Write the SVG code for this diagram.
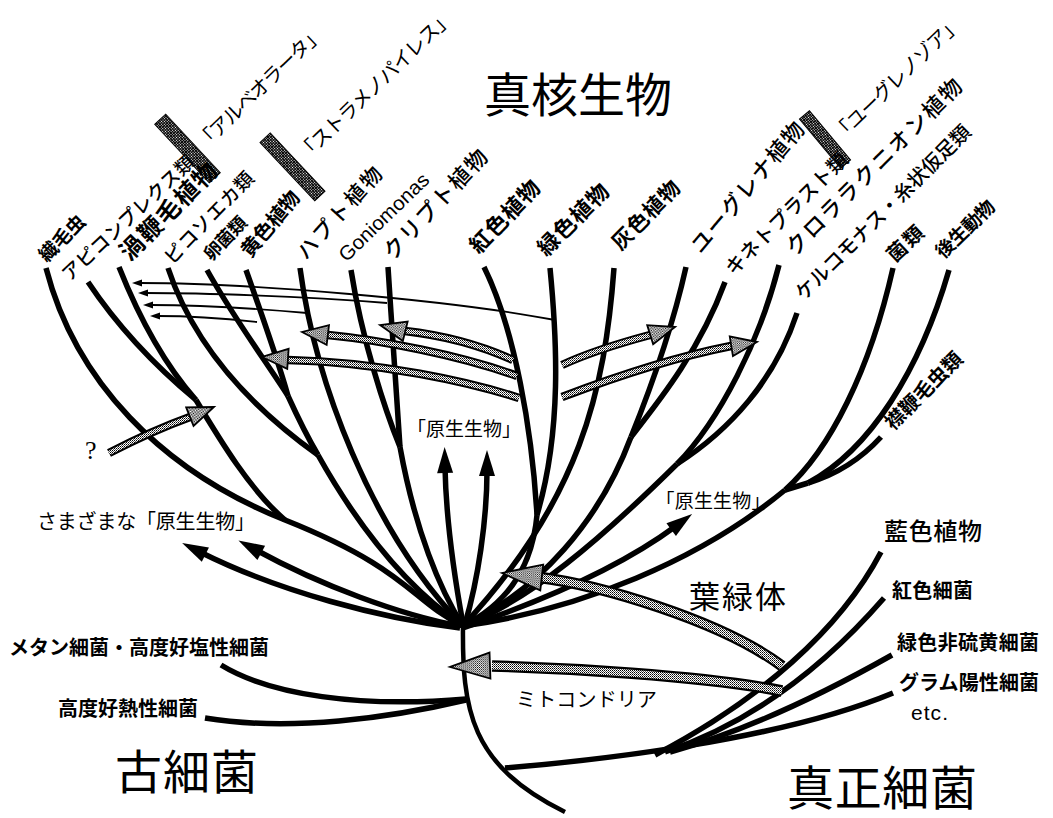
<svg xmlns="http://www.w3.org/2000/svg" width="1053" height="818" viewBox="0 0 1053 818">
<defs>
<pattern id="hatch" width="2" height="2" patternUnits="userSpaceOnUse"><rect width="2" height="2" fill="#fff"/><rect width="1" height="1" fill="#000"/><rect x="1" y="1" width="1" height="1" fill="#555"/></pattern>
<pattern id="dk" width="2" height="2" patternUnits="userSpaceOnUse"><rect width="2" height="2" fill="#000"/><rect width="1" height="1" fill="#fff"/></pattern>
<marker id="ah" markerUnits="userSpaceOnUse" markerWidth="30" markerHeight="20" viewBox="0 -10 30 20" refX="6" refY="0" orient="auto" overflow="visible"><path d="M0,-8 L26,0 L0,8 Z" fill="#000"/></marker>
<style>
.br{fill:none;stroke:#000;stroke-width:5.5}
.st{fill:none;stroke:#000;stroke-width:4.5}
.thin{fill:none;stroke:#000;stroke-width:1.8}
.hb{fill:none;stroke:#000;stroke-width:8.5}
.hf{fill:none;stroke:url(#hatch);stroke-width:4.5}
.Hb{fill:none;stroke:#000;stroke-width:11.5}
.Hf{fill:none;stroke:url(#hatch);stroke-width:7}
.hh{fill:url(#hatch);stroke:#000;stroke-width:1.8;stroke-linejoin:miter}
.bar{fill:url(#dk);stroke:#000;stroke-width:1}
text{font-family:"Noto Sans CJK JP","Noto Sans CJK SC",sans-serif;fill:#000}
.lat{font-family:"Liberation Sans",Arial,sans-serif}
.b{font-weight:700}
.m{font-weight:500}
</style>
</defs>
<rect width="1053" height="818" fill="#fff"/>

<g id="connectors">
<path class="st" d="M463,624 C462,710 470,765 565,812"/>
<path class="br" d="M221,665 C270,695 360,708 466,699"/>
<path class="br" d="M205,718 C290,732 390,718 466,700"/>
<path class="br" d="M505,768 C600,760 780,740 893,693"/>
<path class="br" d="M881,552 C840,630 760,700 655,755"/>
<path class="br" d="M884,598 C830,660 760,720 665,752"/>
<path class="br" d="M892,655 C830,690 750,730 670,752"/>
<path class="br" d="M46,268 C75,380 160,470 285,520 S410,600 463,626"/>
<path class="br" d="M88,282 C120,330 160,370 196,400"/>
<path class="br" d="M119,267 C140,320 165,365 196,400"/>
<path class="br" d="M196,400 C220,440 250,490 285,520"/>
<path class="br" d="M168,268 C195,350 255,410 318,455"/>
<path class="br" d="M207,270 C235,320 265,360 288,396"/>
<path class="br" d="M246,270 C262,315 278,360 288,396"/>
<path class="br" d="M288,396 C298,418 308,438 318,455"/>
<path class="br" d="M318,455 C360,530 410,590 463,626"/>
<path class="br" d="M300,268 C315,380 370,530 463,626"/>
<path class="br" d="M351,270 C362,340 385,410 400,447"/>
<path class="br" d="M388,267 C392,330 397,400 400,447"/>
<path class="br" d="M400,447 C415,530 440,590 463,626"/>
<path class="br" d="M463,624 C455,580 446,520 445,467" marker-end="url(#ah)"/>
<path class="br" d="M465,624 C478,580 487,520 487,470" marker-end="url(#ah)"/>
<path class="br" d="M460,628 C380,618 280,592 200,552" marker-end="url(#ah)"/>
<path class="br" d="M460,626 C400,615 320,585 256,550" marker-end="url(#ah)"/>
<path class="br" d="M463,628 C560,595 630,560 676,526" marker-end="url(#ah)"/>
<path class="br" d="M484,267 C515,330 532,430 537,515"/>
<path class="br" d="M550,268 C557,340 562,430 537,515"/>
<path class="br" d="M537,515 C532,570 505,605 463,626"/>
<path class="br" d="M614,268 C605,390 580,500 463,626"/>
<path class="br" d="M686,267 C672,330 650,390 631,437"/>
<path class="br" d="M725,282 C700,350 660,400 631,437"/>
<path class="br" d="M631,437 C600,520 540,590 463,626"/>
<path class="br" d="M779,265 C760,340 720,420 677,464"/>
<path class="br" d="M797,313 C775,380 730,430 677,464"/>
<path class="br" d="M677,464 C600,540 530,600 463,626"/>
<path class="br" d="M893,268 C870,370 830,450 785,490"/>
<path class="br" d="M949,270 C920,370 870,450 808,483"/>
<path class="br" d="M881,437 C860,460 835,475 808,483"/>
<path class="br" d="M808,483 L785,490"/>
<path class="br" d="M785,490 C700,560 580,610 463,626"/>

<path class="thin" d="M555,320 C450,300 250,283 140,283"/>
<path class="thin" d="M387,303 C300,296 200,293 146,293"/>
<path class="thin" d="M307,313 C250,308 190,305 151,305"/>
<path class="thin" d="M257,322 C220,318 180,316 158,316"/>
<polygon points="132,283 142,279.5 142,286.5"/>
<polygon points="138,293 148,289.5 148,296.5"/>
<polygon points="143,305 153,301.5 153,308.5"/>
<polygon points="150,316 160,312.5 160,319.5"/>

<path class="hb" d="M513,360 C480,345 440,335 405,331"/><path class="hf" d="M513,360 C480,345 440,335 405,331"/>
<polygon class="hh" transform="translate(380,325) rotate(193.9)" points="0,0 -26,-10 -26,10"/>
<path class="hb" d="M517,376 C460,355 380,340 328,335"/><path class="hf" d="M517,376 C460,355 380,340 328,335"/>
<polygon class="hh" transform="translate(302,332) rotate(186.7)" points="0,0 -26,-10 -26,10"/>
<path class="hb" d="M519,398 C470,382 380,362 288,360"/><path class="hf" d="M519,398 C470,382 380,362 288,360"/>
<polygon class="hh" transform="translate(262,357) rotate(184)" points="0,0 -26,-10 -26,10"/>
<path class="hb" d="M562,365 C590,352 620,343 650,335"/><path class="hf" d="M562,365 C590,352 620,343 650,335"/>
<polygon class="hh" transform="translate(675,327) rotate(-17.3)" points="0,0 -26,-10 -26,10"/>
<path class="hb" d="M562,397 C620,375 680,356 731,346"/><path class="hf" d="M562,397 C620,375 680,356 731,346"/>
<polygon class="hh" transform="translate(757,342) rotate(-9.2)" points="0,0 -26,-10 -26,10"/>
<path class="hb" d="M109,453 C140,437 165,426 190,417"/><path class="hf" d="M109,453 C140,437 165,426 190,417"/>
<polygon class="hh" transform="translate(214,407) rotate(-21.7)" points="0,0 -26,-10 -26,10"/>
<path class="Hb" d="M537,577 C600,585 720,620 782,666"/><path class="Hf" d="M537,577 C600,585 720,620 782,666"/>
<polygon class="hh" transform="translate(502,573) rotate(186.4)" points="0,0 -40,-13 -40,13"/>
<path class="Hb" d="M492,666 C560,668 700,675 782,691"/><path class="Hf" d="M492,666 C560,668 700,675 782,691"/>
<polygon class="hh" transform="translate(450,667) rotate(178)" points="0,0 -40,-13 -40,13"/>
</g>

<g id="brackets">
<rect class="bar" x="-40" y="-7.5" width="80" height="15" transform="translate(187.5,148.5) rotate(47)"/>
<rect class="bar" x="-40" y="-7" width="80" height="14" transform="translate(292.5,166.8) rotate(46.8)"/>
<rect class="bar" x="-32" y="-6.5" width="64" height="13" transform="translate(825,139.5) rotate(50)"/>
</g>

<g id="titles">
<text x="484" y="112" font-size="47" textLength="188" lengthAdjust="spacing">真核生物</text>
<text x="115" y="789" font-size="47" textLength="143" lengthAdjust="spacing">古細菌</text>
<text x="787" y="805" font-size="47" textLength="190" lengthAdjust="spacing">真正細菌</text>
</g>

<g id="eukaryote-labels" text-anchor="middle">
<text id="n-ciliate" class="b" transform="translate(66.9,242.9) rotate(-45)" font-size="19" textLength="57" lengthAdjust="spacing">繊毛虫</text>
<text id="n-apicomplexa" class="m" transform="translate(132.7,223.1) rotate(-43)" font-size="19" textLength="173" lengthAdjust="spacing">アピコンプレクス類</text>
<text id="n-dino" class="b" transform="translate(174.4,217.4) rotate(-45)" font-size="24" textLength="126" lengthAdjust="spacing">渦鞭毛植物</text>
<text id="n-bicosoecid" class="m" transform="translate(213.9,222.4) rotate(-46)" font-size="19" textLength="119" lengthAdjust="spacing">ピコソエカ類</text>
<text id="n-oomycete" class="b" transform="translate(229.8,242.8) rotate(-46)" font-size="18" textLength="53" lengthAdjust="spacing">卵菌類</text>
<text id="n-ochrophyte" class="b" transform="translate(275.8,228.4) rotate(-50)" font-size="20" textLength="79" lengthAdjust="spacing">黄色植物</text>
<text id="n-hapto" class="m" transform="translate(345,217.9) rotate(-48)" font-size="21" textLength="116" lengthAdjust="spacing">ハプト植物</text>
<text id="n-gonio" class="lat" transform="translate(388.5,222) rotate(-44)" font-size="20" textLength="117" lengthAdjust="spacingAndGlyphs">Goniomonas</text>
<text id="n-crypto" class="m" transform="translate(441.1,209.7) rotate(-47)" font-size="22" textLength="141" lengthAdjust="spacing">クリプト植物</text>
<text id="n-red" class="b" transform="translate(510.3,222) rotate(-46)" font-size="22" textLength="91" lengthAdjust="spacing">紅色植物</text>
<text id="n-green" class="b" transform="translate(578.7,225.2) rotate(-45)" font-size="22" textLength="91" lengthAdjust="spacing">緑色植物</text>
<text id="n-glauco" class="b" transform="translate(651.2,220.2) rotate(-45.5)" font-size="21" textLength="87" lengthAdjust="spacing">灰色植物</text>
<text id="n-euglena" class="m" transform="translate(753.4,192.4) rotate(-50)" font-size="22" textLength="163" lengthAdjust="spacing">ユーグレナ植物</text>
<text id="n-euglenozoa" transform="translate(901.8,84) rotate(-44)" font-size="20" textLength="170" lengthAdjust="spacing">「ユーグレノゾア」</text>
<text id="n-kineto" class="m" transform="translate(791.4,218.9) rotate(-45)" font-size="20" textLength="163" lengthAdjust="spacing">キネトプラスト類</text>
<text id="n-chlorarach" class="m" transform="translate(879.4,172.4) rotate(-45)" font-size="22" textLength="239" lengthAdjust="spacing">クロララクニオン植物</text>
<text id="n-cercozoa" class="m" transform="translate(887.9,217.4) rotate(-45)" font-size="20" textLength="238" lengthAdjust="spacing">ケルコモナス・糸状仮足類</text>
<text id="n-fungi" class="b" transform="translate(910,249) rotate(-43)" font-size="20" textLength="42" lengthAdjust="spacing">菌類</text>
<text id="n-metazoa" class="b" transform="translate(969.9,233.9) rotate(-44)" font-size="19" textLength="74" lengthAdjust="spacing">後生動物</text>
<text id="n-alveolata" transform="translate(264.8,93) rotate(-44)" font-size="20" textLength="168" lengthAdjust="spacing">「アルベオラータ」</text>
<text id="n-stramenopiles" transform="translate(380.3,90.5) rotate(-44)" font-size="20" textLength="207" lengthAdjust="spacing">「ストラメノパイレス」</text>
<text id="n-choano" class="b" transform="translate(928.7,395.7) rotate(-45)" font-size="20" textLength="100" lengthAdjust="spacing">襟鞭毛虫類</text>
</g>

<g id="other-labels">
<text x="464" y="436" text-anchor="middle" font-size="19" textLength="114" lengthAdjust="spacing">「原生生物」</text>
<text x="713" y="508" text-anchor="middle" font-size="19" textLength="115" lengthAdjust="spacing">「原生生物」</text>
<text x="37" y="529" font-size="20" textLength="218" lengthAdjust="spacing">さまざまな「原生生物」</text>
<text x="85" y="459" font-size="26" style="font-family:'Liberation Serif',serif">?</text>
<text class="b" x="9" y="655" font-size="20" textLength="260" lengthAdjust="spacing">メタン細菌・高度好塩性細菌</text>
<text class="b" x="58" y="716" font-size="20" textLength="140" lengthAdjust="spacing">高度好熱性細菌</text>
<text class="m" x="884" y="540" font-size="24" textLength="98" lengthAdjust="spacing">藍色植物</text>
<text x="689" y="608" font-size="31" textLength="97" lengthAdjust="spacing">葉緑体</text>
<text class="b" x="892" y="598" font-size="20" textLength="81" lengthAdjust="spacing">紅色細菌</text>
<text class="b" x="897" y="650" font-size="20" textLength="142" lengthAdjust="spacing">緑色非硫黄細菌</text>
<text class="b" x="899" y="690" font-size="20" textLength="140" lengthAdjust="spacing">グラム陽性細菌</text>
<text class="lat" x="911" y="720" font-size="21" textLength="37" lengthAdjust="spacing">etc.</text>
<text x="516" y="707" font-size="20" textLength="141" lengthAdjust="spacing">ミトコンドリア</text>
</g>
</svg>
